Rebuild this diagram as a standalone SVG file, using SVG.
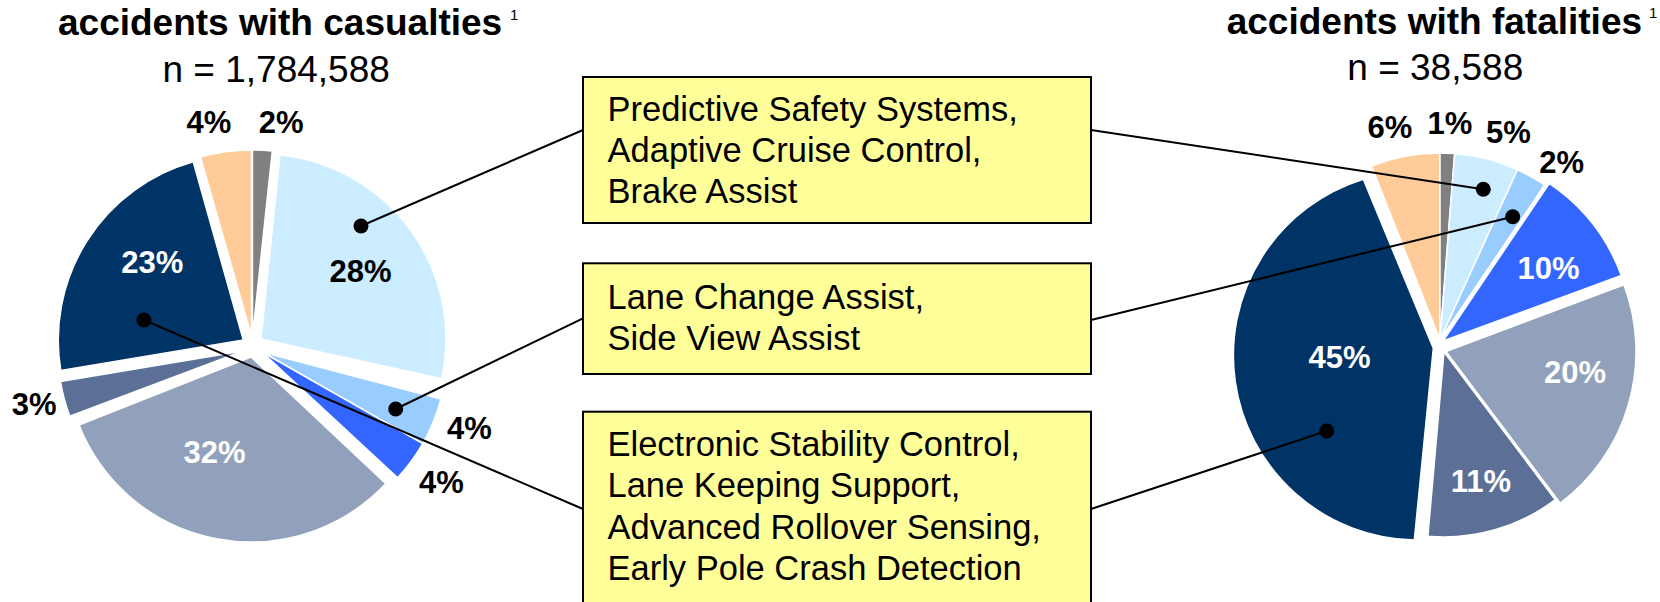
<svg xmlns="http://www.w3.org/2000/svg" width="1660" height="602" viewBox="0 0 1660 602">
<style>
.t{font-family:"Liberation Sans",Arial,sans-serif;font-weight:bold;font-size:37px;fill:#000}
.n{font-family:"Liberation Sans",Arial,sans-serif;font-size:37px;fill:#000}
.sup{font-family:"Liberation Sans",Arial,sans-serif;font-size:15px;fill:#000}
.lb{font-family:"Liberation Sans",Arial,sans-serif;font-weight:bold;font-size:31px;text-anchor:middle;fill:#000}
.w{fill:#fff}
.bx{fill:#FFFF99;stroke:#000;stroke-width:2}
.bt{font-family:"Liberation Sans",Arial,sans-serif;font-size:34.5px;fill:#000}
.s{stroke:#fff;stroke-width:1.5;stroke-linejoin:round}
.gray{fill:#808080}.cyan{fill:#CCECFF}.lbl{fill:#99CCFF}.blue{fill:#3366FF}
.gb{fill:#91A1BB}.sl{fill:#5B6F97}.navy{fill:#003366}.or{fill:#FFCC99}
.ln{stroke:#000;stroke-width:2;fill:none}
</style>
<rect width="1660" height="602" fill="#fff"/>
<g id="title-left">
<text class="t" x="58" y="35">accidents with casualties</text>
<text class="sup" x="510" y="20">1</text>
<text class="n" x="162.5" y="81.7">n = 1,784,588</text>
</g>
<g id="title-right">
<text class="t" x="1226.7" y="33.5">accidents with fatalities</text>
<text class="sup" x="1649" y="18">1</text>
<text class="n" x="1347.3" y="79.5">n = 38,588</text>
</g>
<g id="pie-left">
<path class="s gray" d="M252.5,336.5 L252.5,150 A186.5,186.5 0 0 1 272.3,151.1 Z"/>
<path class="s cyan" d="M261,339 L280,155 A185,185 0 0 1 441.7,378.7 Z"/>
<path class="s lbl" d="M262,352 L440.9,399 A185,185 0 0 1 422.7,443.7 Z"/>
<path class="s blue" d="M262,352 L422.7,443.7 A185,185 0 0 1 397.7,477.7 Z"/>
<path class="s gb" d="M251,357 L385.9,483.6 A185,185 0 0 1 79,425.1 Z"/>
<path class="s sl" d="M243,351 L69.8,416.1 A185,185 0 0 1 60.5,381.5 Z"/>
<path class="s navy" d="M243.3,340 L60.8,370.5 A185,185 0 0 1 193.2,161.9 Z"/>
<path class="s or" d="M251.5,336 L200.5,157.1 A186,186 0 0 1 251.5,150 Z"/>
<text class="lb" x="208.9" y="132.7">4%</text>
<text class="lb" x="281.2" y="132.7">2%</text>
<text class="lb w" x="152.2" y="272.7">23%</text>
<text class="lb" x="360.5" y="281.7">28%</text>
<text class="lb" x="34.1" y="415">3%</text>
<text class="lb w" x="214.5" y="462.5">32%</text>
<text class="lb" x="469.3" y="439.3">4%</text>
<text class="lb" x="441.4" y="492.7">4%</text>
</g>
<g id="pie-right">
<path class="s or" d="M1440,340 L1371.5,166 A187,187 0 0 1 1440,153 Z"/>
<path class="s gray" d="M1440,340 L1440,153 A187,187 0 0 1 1454.7,153.6 Z"/>
<path class="s cyan" d="M1440,340 L1454.7,153.6 A187,187 0 0 1 1517.5,169.8 Z"/>
<path class="s lbl" d="M1440,340 L1517.5,169.8 A187,187 0 0 1 1544.6,185 Z"/>
<path class="s blue" d="M1443,341 L1549.2,183.5 A190,190 0 0 1 1621.3,275.4 Z"/>
<path class="s gb" d="M1446,351.5 L1624,284.9 A190,190 0 0 1 1560.3,503.2 Z"/>
<path class="s sl" d="M1444,352 L1555.3,499.7 A185,185 0 0 1 1427.9,536.3 Z"/>
<path class="s navy" d="M1433.3,348.3 L1414.3,540 A184.5,184.5 0 0 1 1363.3,179.3 Z"/>
<text class="lb" x="1390" y="138.3">6%</text>
<text class="lb" x="1450" y="134">1%</text>
<text class="lb" x="1508.5" y="142.7">5%</text>
<text class="lb" x="1561.7" y="173.3">2%</text>
<text class="lb w" x="1548.5" y="279.3">10%</text>
<text class="lb w" x="1575" y="382.7">20%</text>
<text class="lb w" x="1480.8" y="492.3">11%</text>
<text class="lb w" x="1339.5" y="368.3">45%</text>
</g>
<g id="connectors">
<line class="ln" x1="361" y1="226" x2="583" y2="130"/>
<line class="ln" x1="1091" y1="130" x2="1483.3" y2="189.3"/>
<line class="ln" x1="395.7" y1="409" x2="583" y2="318.3"/>
<line class="ln" x1="1091" y1="320" x2="1512.7" y2="216.7"/>
<line class="ln" x1="143.9" y1="320" x2="583" y2="509"/>
<line class="ln" x1="1091" y1="509" x2="1326.7" y2="431"/>
<circle cx="361" cy="226" r="7.5"/>
<circle cx="395.7" cy="409" r="7.5"/>
<circle cx="143.9" cy="320" r="7.5"/>
<circle cx="1483.3" cy="189.3" r="7.5"/>
<circle cx="1512.7" cy="216.7" r="7.5"/>
<circle cx="1326.7" cy="431" r="7.5"/>
</g>
<g id="box-1">
<rect class="bx" x="583" y="77" width="508" height="146"/>
<text class="bt" x="607.5" y="120.7">Predictive Safety Systems,</text>
<text class="bt" x="607.5" y="161.5">Adaptive Cruise Control,</text>
<text class="bt" x="607.5" y="202.7">Brake Assist</text>
</g>
<g id="box-2">
<rect class="bx" x="583" y="263.3" width="508" height="110.7"/>
<text class="bt" x="607.5" y="309.3">Lane Change Assist,</text>
<text class="bt" x="607.5" y="350.3">Side View Assist</text>
</g>
<g id="box-3">
<rect class="bx" x="583" y="411.7" width="508" height="210"/>
<text class="bt" x="607.5" y="455.7">Electronic Stability Control,</text>
<text class="bt" x="607.5" y="496.9">Lane Keeping Support,</text>
<text class="bt" x="607.5" y="538.6">Advanced Rollover Sensing,</text>
<text class="bt" x="607.5" y="580">Early Pole Crash Detection</text>
</g>
</svg>
